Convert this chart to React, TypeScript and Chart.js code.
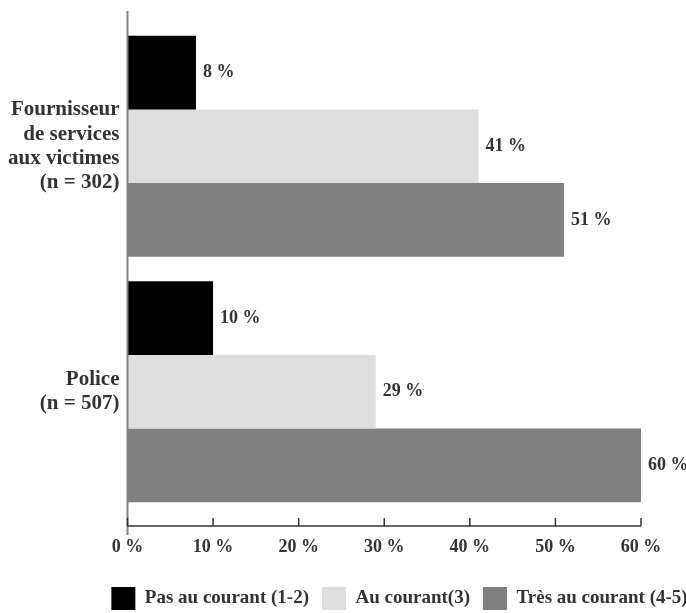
import React, { useEffect, useRef } from "react";
import { Chart, registerables } from "chart.js";

Chart.register(...registerables);

const categories: string[][] = [
  ["Fournisseur", "de services", "aux victimes", "(n = 302)"],
  ["Police", "(n = 507)"],
];
const seriesNames = ["Pas au courant (1-2)", "Au courant(3)", "Très au courant (4-5)"];
const pasAuCourant = [8, 10];
const auCourant = [41, 29];
const tresAuCourant = [51, 60];
const xTicks = [0, 10, 20, 30, 40, 50, 60];
const seriesColors = ["#000000", "#dedede", "#808080"];

const FONT = "'Liberation Serif', 'Times New Roman', serif";
const TEXT = "#333333";

const customPlugin = {
  id: "customAxesLabels",
  afterLayout(chart: any) {
    const lg = chart.legend;
    if (lg) {
      lg.left = 59;
      lg.right = 740;
      lg.width = lg.right - lg.left;
      lg.top = 574;
      lg.bottom = 613;
    }
  },
  afterDatasetsDraw(chart: any) {
    const { ctx, chartArea, scales } = chart;
    const x = scales.x;
    const left = x.getPixelForValue(0);
    const right = x.getPixelForValue(60);
    const axisY = chartArea.bottom + 11.5;
    ctx.save();
    // y axis line
    ctx.strokeStyle = "#808080";
    ctx.lineWidth = 2;
    ctx.beginPath();
    ctx.moveTo(left, chartArea.top - 12.5);
    ctx.lineTo(left, chartArea.bottom + 20.5);
    ctx.stroke();
    // x axis line + ticks
    ctx.strokeStyle = "#333333";
    ctx.lineWidth = 1.5;
    ctx.beginPath();
    ctx.moveTo(left, axisY);
    ctx.lineTo(right, axisY);
    xTicks.forEach((v) => {
      const px = x.getPixelForValue(v);
      ctx.moveTo(px, axisY);
      ctx.lineTo(px, axisY - 8);
    });
    ctx.stroke();
    // value labels
    ctx.font = `bold 18px ${FONT}`;
    ctx.fillStyle = TEXT;
    ctx.textAlign = "left";
    ctx.textBaseline = "middle";
    chart.data.datasets.forEach((ds: any, i: number) => {
      const meta = chart.getDatasetMeta(i);
      meta.data.forEach((bar: any, j: number) => {
        ctx.fillText(`${ds.data[j]} %`, bar.x + 7, bar.y);
      });
    });
    ctx.restore();
  },
};

export default function App() {
  const ref = useRef<HTMLCanvasElement | null>(null);
  useEffect(() => {
    if (!ref.current) return;
    const series = [pasAuCourant, auCourant, tresAuCourant];
    const chart = new Chart(ref.current, {
      type: "bar",
      data: {
        labels: categories as any,
        datasets: series.map((d, i) => ({
          label: seriesNames[i],
          data: d,
          backgroundColor: seriesColors[i],
          borderWidth: 0,
          barPercentage: 1,
          categoryPercentage: 0.9,
        })),
      },
      options: {
        indexAxis: "y",
        animation: false,
        responsive: true,
        maintainAspectRatio: false,
        layout: { padding: { top: 23.5, right: 0, left: 0, bottom: 0 } },
        plugins: {
          tooltip: { enabled: false },
          legend: {
            position: "bottom",
            align: "center",
            labels: {
              boxWidth: 24,
              boxHeight: 23,
              padding: 13,
              color: TEXT,
              font: { family: FONT, size: 19, weight: "bold" },
            },
          },
        },
        scales: {
          y: {
            type: "category",
            grid: { display: false, drawTicks: false },
            border: { display: false },
            ticks: {
              color: TEXT,
              padding: 8,
              font: { family: FONT, size: 21, weight: "bold", lineHeight: 1.15 },
            },
            afterFit: (s: any) => {
              s.width = 127.5;
              s.paddingTop = 0;
              s.paddingBottom = 0;
            },
          },
          x: {
            type: "linear",
            min: 0,
            max: 60,
            grid: { display: false, drawTicks: false },
            border: { display: false },
            ticks: {
              stepSize: 10,
              color: TEXT,
              padding: 22,
              font: { family: FONT, size: 18, weight: "bold" },
              callback: (v: any) => `${v} %`,
            },
            afterFit: (s: any) => {
              s.height = 52.5;
              s.paddingRight = 45;
            },
          },
        },
      },
      plugins: [customPlugin],
    });
    return () => chart.destroy();
  }, []);
  return (
    <div style={{ position: "fixed", left: 0, top: 0, width: 686, height: 613, background: "#fff" }}>
      <canvas ref={ref} />
    </div>
  );
}
